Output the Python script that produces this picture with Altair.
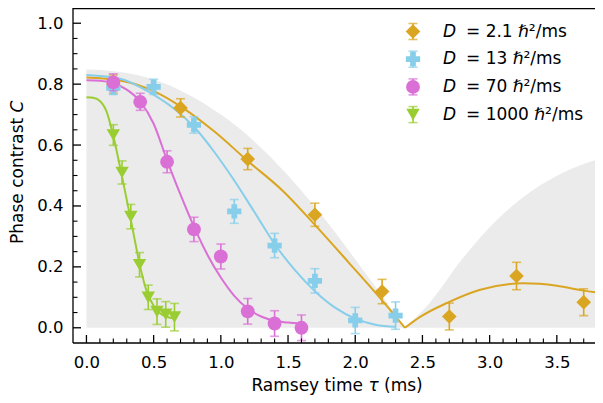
import altair as alt
import pandas as pd

# ---------------- data ----------------
series = ["D = 2.1", "D = 13", "D = 70", "D = 1000"]
legend_rest = ["= 2.1 ℏ²/ms", "= 13 ℏ²/ms", "= 70 ℏ²/ms", "= 1000 ℏ²/ms"]
colors = ["#DAA520", "#87CEEB", "#DA70D6", "#9ACD32"]
shapes = ["diamond", "cross", "circle", "triangle-down"]
sizes = [215, 180, 170, 165]

tau_a = [0.2, 0.7, 1.2, 1.7, 2.2, 2.7, 3.2, 3.7]
C_a = [0.800, 0.722, 0.554, 0.371, 0.119, 0.037, 0.170, 0.084]
err_a = [0.030, 0.030, 0.035, 0.038, 0.040, 0.044, 0.045, 0.044]

tau_b = [0.2, 0.5, 0.8, 1.1, 1.4, 1.7, 2.0, 2.3]
C_b = [0.788, 0.791, 0.666, 0.382, 0.270, 0.154, 0.024, 0.040]
err_b = [0.022, 0.025, 0.027, 0.039, 0.040, 0.040, 0.043, 0.045]

tau_c = [0.2, 0.4, 0.6, 0.8, 1.0, 1.2, 1.4, 1.6]
C_c = [0.806, 0.742, 0.545, 0.323, 0.234, 0.054, 0.014, 0.000]
err_c = [0.028, 0.028, 0.036, 0.040, 0.041, 0.042, 0.042, 0.042]

tau_d = [0.2, 0.265, 0.33, 0.395, 0.46, 0.525, 0.59, 0.655]
C_d = [0.633, 0.510, 0.365, 0.207, 0.100, 0.053, 0.044, 0.035]
err_d = [0.034, 0.038, 0.040, 0.040, 0.040, 0.042, 0.042, 0.045]

# fit curves
fit_a1_tau = [0, 0.25, 0.52, 0.7, 0.95, 1.2, 1.46, 1.7, 1.95, 2.2, 2.37]
fit_a1_C = [0.822, 0.812, 0.773, 0.727, 0.645, 0.548, 0.45, 0.338, 0.215, 0.09, 0.0]
fit_a2_tau = [2.37, 2.48, 2.68, 2.93, 3.25, 3.5, 3.7, 3.843]
fit_a2_C = [0.0, 0.035, 0.081, 0.125, 0.146, 0.138, 0.122, 0.113]
fit_b_tau = [0, 0.25, 0.47, 0.65, 0.81, 0.95, 1.09, 1.25, 1.4, 1.55, 1.7, 1.85, 2.0, 2.15, 2.3]
fit_b_C = [0.83, 0.818, 0.773, 0.72, 0.655, 0.578, 0.49, 0.38, 0.275, 0.19, 0.12, 0.066, 0.03, 0.01, 0.003]
fit_c_tau = [0, 0.1, 0.2, 0.3, 0.4, 0.5, 0.6, 0.7, 0.8, 0.9, 1.0, 1.1, 1.2, 1.3, 1.4, 1.5, 1.6]
fit_c_C = [0.8125, 0.811, 0.803, 0.782, 0.743, 0.67, 0.55, 0.437, 0.332, 0.24, 0.165, 0.105, 0.063,
           0.037, 0.023, 0.017, 0.014]
fit_d_tau = [0, 0.05, 0.1, 0.15, 0.2, 0.25, 0.3, 0.35, 0.4, 0.45, 0.5, 0.55, 0.6, 0.655]
fit_d_C = [0.757, 0.755, 0.745, 0.71, 0.63, 0.528, 0.42, 0.31, 0.2, 0.118, 0.072, 0.047, 0.036, 0.03]

# grey envelope band
band1_tau = [0, 0.25, 0.5, 0.75, 1.0, 1.25, 1.5, 1.75, 2.0, 2.2, 2.37]
band1_C = [0.848, 0.84, 0.815, 0.768, 0.70, 0.612, 0.50, 0.37, 0.225, 0.105, 0.0]
band2_tau = [2.37, 2.55, 2.8, 3.05, 3.3, 3.55, 3.843]
band2_C = [0.0, 0.08, 0.228, 0.352, 0.445, 0.51, 0.558]

x_major = [0.0, 0.5, 1.0, 1.5, 2.0, 2.5, 3.0, 3.5]
x_minor = [0.1, 0.2, 0.3, 0.4, 0.6, 0.7, 0.8, 0.9, 1.1, 1.2, 1.3, 1.4, 1.6, 1.7, 1.8, 1.9,
           2.1, 2.2, 2.3, 2.4, 2.6, 2.7, 2.8, 2.9, 3.1, 3.2, 3.3, 3.4, 3.6, 3.7]
y_major = [0.0, 0.2, 0.4, 0.6, 0.8, 1.0]
y_minor = [0.05, 0.1, 0.15, 0.25, 0.3, 0.35, 0.45, 0.5, 0.55, 0.65, 0.7, 0.75, 0.85, 0.9, 0.95]

# ---------------- tables ----------------
pts_rows = []
for s, tt, cc, ee in zip(series, [tau_a, tau_b, tau_c, tau_d], [C_a, C_b, C_c, C_d],
                         [err_a, err_b, err_c, err_d]):
    for t, c, e in zip(tt, cc, ee):
        pts_rows.append({"series": s, "tau": t, "C": c, "lo": c - e, "hi": c + e})
pts = pd.DataFrame(pts_rows)

fit_rows = []
for s, seg, tt, cc in [(series[0], "a1", fit_a1_tau, fit_a1_C), (series[0], "a2", fit_a2_tau, fit_a2_C),
                       (series[1], "b", fit_b_tau, fit_b_C), (series[2], "c", fit_c_tau, fit_c_C),
                       (series[3], "d", fit_d_tau, fit_d_C)]:
    for t, c in zip(tt, cc):
        fit_rows.append({"series": s, "seg": seg, "tau": t, "C": c})
fits = pd.DataFrame(fit_rows)

band = pd.DataFrame([{"seg": "1", "tau": t, "C": c} for t, c in zip(band1_tau, band1_C)] +
                    [{"seg": "2", "tau": t, "C": c} for t, c in zip(band2_tau, band2_C)])

W, H = 522, 335
PAD_B = 387 - H
FONT = "DejaVu Sans"
LEG_TOP, LEG_STEP = 23.5, 27.7
leg = pd.DataFrame({"series": series, "rest": legend_rest,
                    "ly": [LEG_TOP + i * LEG_STEP for i in range(4)]})
leg["ly_lo"] = leg["ly"] - 8
leg["ly_hi"] = leg["ly"] + 8

one = pd.DataFrame({"k": [0]})

xs = alt.Scale(domain=[-0.1, 3.784], nice=False, zero=False)
ys = alt.Scale(domain=[-0.05, 1.05], nice=False, zero=False)
cs = alt.Scale(domain=series, range=colors)
ss = alt.Scale(domain=series, range=shapes)
zs = alt.Scale(domain=series, range=sizes)

ax_x = alt.Axis(values=x_major, format=".1f", title=None, grid=False, domain=False, ticks=False,
                tickSize=0, labelPadding=11, labelFontSize=16.5, labelFont=FONT, labelColor="black",
                labelFlush=False, labelOverlap=False)
ax_y = alt.Axis(values=y_major, format=".1f", title=None, grid=False, domain=False, ticks=False,
                tickSize=0, labelPadding=10, labelFontSize=16.5, labelFont=FONT, labelColor="black",
                labelFlush=False, labelOverlap=False)


def X(field):
    return alt.X(field, scale=xs, axis=ax_x)


def Y(field):
    return alt.Y(field, scale=ys, axis=ax_y, stack=None)


layers = []
layers.append(alt.Chart(band).mark_area(color="#EBEBEB", interpolate="monotone", clip=True).encode(
    x=X("tau:Q"), y=Y("C:Q"), detail="seg:N"))

layers.append(alt.Chart(fits).mark_line(strokeWidth=2, interpolate="monotone", clip=True).encode(
    x=X("tau:Q"), y=Y("C:Q"), color=alt.Color("series:N", scale=cs, legend=None), detail="seg:N"))

for s in series:
    d = pts[pts["series"] == s]
    base = alt.Chart(d)
    layers.append(base.mark_rule(strokeWidth=1.6).encode(
        x=X("tau:Q"), y=Y("lo:Q"), y2="hi:Q", color=alt.Color("series:N", scale=cs, legend=None)))
    for f in ["lo:Q", "hi:Q"]:
        layers.append(base.mark_tick(orient="horizontal", size=9, thickness=1.6).encode(
            x=X("tau:Q"), y=Y(f), color=alt.Color("series:N", scale=cs, legend=None)))
    layers.append(base.mark_point(filled=True, opacity=1, strokeWidth=0).encode(
        x=X("tau:Q"), y=Y("C:Q"),
        color=alt.Color("series:N", scale=cs, legend=None),
        shape=alt.Shape("series:N", scale=ss, legend=None),
        size=alt.Size("series:N", scale=zs, legend=None)))

# inward ticks
layers.append(alt.Chart(pd.DataFrame({"t": x_major})).mark_rule(color="black", strokeWidth=1.3).encode(
    x=X("t:Q"), y=alt.value(H), y2=alt.value(H - 8)))
layers.append(alt.Chart(pd.DataFrame({"t": x_minor})).mark_rule(color="black", strokeWidth=1.1).encode(
    x=X("t:Q"), y=alt.value(H), y2=alt.value(H - 4.5)))
layers.append(alt.Chart(pd.DataFrame({"t": y_major})).mark_rule(color="black", strokeWidth=1.3).encode(
    y=Y("t:Q"), x=alt.value(0), x2=alt.value(8)))
layers.append(alt.Chart(pd.DataFrame({"t": y_minor})).mark_rule(color="black", strokeWidth=1.1).encode(
    y=Y("t:Q"), x=alt.value(0), x2=alt.value(4.5)))

# spines (left, top, bottom)
sp = alt.Chart(one)
layers.append(sp.mark_rule(color="black", strokeWidth=1.3).encode(x=alt.value(0), y=alt.value(0), y2=alt.value(H)))
layers.append(sp.mark_rule(color="black", strokeWidth=1.3).encode(x=alt.value(0), x2=alt.value(W), y=alt.value(0.5)))
layers.append(sp.mark_rule(color="black", strokeWidth=1.3).encode(x=alt.value(0), x2=alt.value(W), y=alt.value(H)))

# legend
lg = alt.Chart(leg)
LX = 340
layers.append(lg.mark_rule(strokeWidth=1.6).encode(
    x=alt.value(LX), y=alt.Y("ly_lo:Q", scale=None), y2="ly_hi:Q",
    color=alt.Color("series:N", scale=cs, legend=None)))
for f in ["ly_lo:Q", "ly_hi:Q"]:
    layers.append(lg.mark_tick(orient="horizontal", size=9, thickness=1.6).encode(
        x=alt.value(LX), y=alt.Y(f, scale=None), color=alt.Color("series:N", scale=cs, legend=None)))
layers.append(lg.mark_point(filled=True, opacity=1, strokeWidth=0).encode(
    x=alt.value(LX), y=alt.Y("ly:Q", scale=None),
    color=alt.Color("series:N", scale=cs, legend=None),
    shape=alt.Shape("series:N", scale=ss, legend=None),
    size=alt.Size("series:N", scale=zs, legend=None)))
layers.append(lg.mark_text(font=FONT, fontSize=17, fontStyle="italic", align="left", baseline="middle",
                           color="black").encode(
    x=alt.value(370), y=alt.Y("ly:Q", scale=None), text=alt.value("D")))
layers.append(lg.mark_text(font=FONT, fontSize=17, align="left", baseline="middle", color="black").encode(
    x=alt.value(393), y=alt.Y("ly:Q", scale=None), text="rest:N"))

# axis titles (alphabetic baseline so descenders stay inside the page)
TY = 382.5
tt = alt.Chart(one)
layers.append(tt.mark_text(font=FONT, fontSize=17, align="right", baseline="alphabetic", color="black").encode(
    x=alt.value(290), y=alt.value(TY), text=alt.value("Ramsey time")))
layers.append(tt.mark_text(font=FONT, fontSize=17, fontStyle="italic", align="center", baseline="alphabetic",
                           color="black").encode(x=alt.value(300.5), y=alt.value(TY), text=alt.value("τ")))
layers.append(tt.mark_text(font=FONT, fontSize=17, align="left", baseline="alphabetic", color="black").encode(
    x=alt.value(311), y=alt.value(TY), text=alt.value("(ms)")))
layers.append(tt.mark_text(font=FONT, fontSize=17, align="left", baseline="middle", angle=270,
                           color="black").encode(x=alt.value(-55), y=alt.value(236),
                                                 text=alt.value("Phase contrast")))
layers.append(tt.mark_text(font=FONT, fontSize=17, fontStyle="italic", align="left", baseline="middle",
                           angle=270, color="black").encode(x=alt.value(-55), y=alt.value(104.5),
                                                            text=alt.value("C")))

chart = alt.layer(*layers).properties(
    width=W, height=H,
    autosize=alt.AutoSizeParams(type="none"),
    padding={"left": 65, "top": 0, "right": 0, "bottom": PAD_B},
).configure_view(stroke=None)

chart.save("out.html", embed_options={"renderer": "svg", "actions": False})
